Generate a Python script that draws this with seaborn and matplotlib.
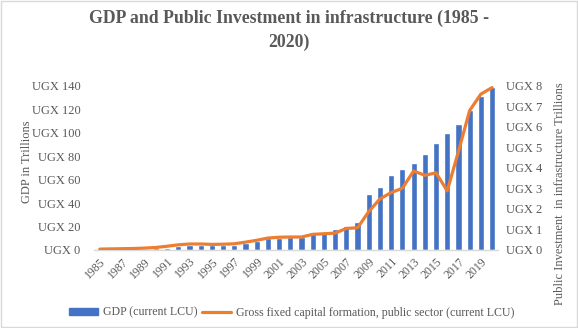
import numpy as np
import pandas as pd
import matplotlib
matplotlib.use("Agg")
import matplotlib.pyplot as plt
import seaborn as sns
from matplotlib.patches import Rectangle
from matplotlib.lines import Line2D

years = list(range(1985, 2021))
gdp = [0.05, 0.1, 0.3, 0.6, 1.0, 1.4, 2.0, 3.0, 3.8, 3.9, 4.0, 4.1, 4.3, 6.3, 7.9,
       9.8, 10.6, 10.8, 11.0, 15.1, 15.2, 17.9, 20.6, 23.9, 47.8, 53.8, 64.0, 69.1,
       74.3, 82.0, 91.3, 100.1, 107.8, 119.5, 131.7, 139.4]
gfcf = [0.04, 0.05, 0.06, 0.07, 0.09, 0.12, 0.18, 0.25, 0.29, 0.29, 0.27, 0.28, 0.30,
        0.38, 0.47, 0.58, 0.62, 0.63, 0.63, 0.76, 0.79, 0.82, 1.05, 1.08, 1.87, 2.49,
        2.80, 3.01, 3.85, 3.64, 3.76, 2.88, 4.80, 6.80, 7.60, 7.92]
left_ticks = [0, 20, 40, 60, 80, 100, 120, 140]
right_ticks = [0, 1, 2, 3, 4, 5, 6, 7, 8]

bar_color = "#4472C4"
line_color = "#ED7D31"
text_color = "#595959"

sns.set_theme(style="white")
plt.rcParams["font.family"] = ["Liberation Serif", "DejaVu Serif"]

df = pd.DataFrame({"year": [str(y) for y in years], "gdp": gdp, "gfcf": gfcf})

fig = plt.figure(figsize=(5.78, 3.28), dpi=100)
ax = fig.add_axes([0.163, 0.238, 0.698, 0.5])
sns.barplot(data=df, x="year", y="gdp", color=bar_color, width=0.55, ax=ax,
            saturation=1)
ax.set_xlim(-0.5, len(years) - 0.5)
ax.set_ylim(0, 140)
ax.set_yticks(left_ticks)
ax.set_yticklabels([f"UGX {t}" for t in left_ticks], color=text_color, fontsize=9)
ax.set_xticks(range(0, len(years), 2))
ax.set_xticklabels([str(y) for y in years[::2]], rotation=45, ha="right",
                   rotation_mode="anchor", color=text_color, fontsize=8.5)
ax.tick_params(axis="both", length=0, pad=4)
ax.tick_params(axis="y", pad=10)
ax.set_xlabel("")
ax.set_ylabel("")
for s in ["top", "left", "right"]:
    ax.spines[s].set_visible(False)
ax.spines["bottom"].set_color("#D9D9D9")
ax.spines["bottom"].set_linewidth(1)

ax2 = ax.twinx()
sns.lineplot(x=np.arange(len(years)), y=df["gfcf"], color=line_color, linewidth=2.3,
             ax=ax2)
ax2.set_ylim(0, 8)
ax2.set_yticks(right_ticks)
ax2.set_yticklabels([f"UGX {t}" for t in right_ticks], color=text_color, fontsize=9)
ax2.tick_params(axis="y", length=0, pad=6)
ax2.set_ylabel("")
for s in ["top", "left", "right", "bottom"]:
    ax2.spines[s].set_visible(False)
ax.set_xlim(-0.5, len(years) - 0.5)

fig.text(0.5, 0.945, "GDP and Public Investment in infrastructure (1985 -",
         ha="center", va="center", fontsize=12.8, fontweight="bold", color=text_color)
fig.text(0.5, 0.87, "2020)", ha="center", va="center", fontsize=12.8,
         fontweight="bold", color=text_color)
fig.text(0.047, 0.506, "GDP in Trillions", rotation=90, ha="center", va="center",
         fontsize=9, color=text_color)
fig.text(0.968, 0.41, "Public Investment  in infrastructure Trillions", rotation=90,
         ha="center", va="center", fontsize=9, color=text_color)

handles = [Rectangle((0, 0), 1, 1, color=bar_color),
           Line2D([0], [0], color=line_color, linewidth=2.3)]
fig.legend(handles, ["GDP (current LCU)",
                     "Gross fixed capital formation, public sector (current LCU)"],
           loc="center", bbox_to_anchor=(0.505, 0.047), ncol=2, frameon=False,
           fontsize=8.6, labelcolor=text_color, handlelength=2.4, handleheight=0.6,
           columnspacing=0.4, handletextpad=0.4, borderaxespad=0)

fig.patches.append(Rectangle((0.001, 0.002), 0.997, 0.995, transform=fig.transFigure,
                             fill=False, edgecolor="#D9D9D9", linewidth=1))
fig.savefig("out.png", dpi=100)
